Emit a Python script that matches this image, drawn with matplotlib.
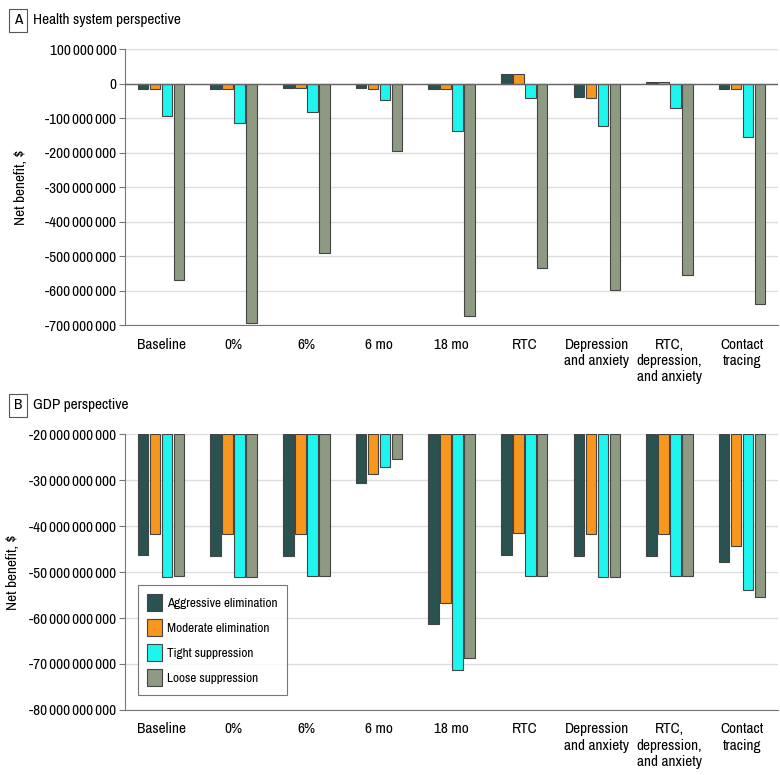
import numpy as np
import matplotlib.pyplot as plt
from matplotlib import font_manager
from matplotlib.ticker import FuncFormatter

# prefer a narrow face if one is installed, the reference uses a condensed font
narrow = None
for f in font_manager.fontManager.ttflist:
    if ("Narrow" in f.name or "Condensed" in f.name) and f.style == "normal":
        narrow = f.name
        break
if narrow:
    plt.rcParams['font.family'] = [narrow, 'DejaVu Sans']
    fs = 11
else:
    plt.rcParams['font.family'] = ['Liberation Sans', 'DejaVu Sans']
    fs = 9.5

categories = ["Baseline", "0%", "6%", "6 mo", "18 mo", "RTC",
              "Depression\nand anxiety", "RTC,\ndepression,\nand anxiety",
              "Contact\ntracing"]
series = ["Aggressive elimination", "Moderate elimination",
          "Tight suppression", "Loose suppression"]
colors = ["#2a5250", "#f7971e", "#1ef5ee", "#8e9a82"]

# panel A, health system perspective ($)
health_agg = [-15e6, -17e6, -13e6, -13e6, -15e6, 29e6, -39e6, 5e6, -16e6]
health_mod = [-15e6, -17e6, -12e6, -15e6, -15e6, 29e6, -41e6, 5e6, -15e6]
health_tight = [-95e6, -114e6, -82e6, -48e6, -136e6, -41e6, -124e6, -71e6, -156e6]
health_loose = [-569e6, -694e6, -490e6, -196e6, -674e6, -534e6, -597e6, -555e6, -640e6]

# panel B, GDP perspective ($)
gdp_agg = [-46.4e9, -46.5e9, -46.5e9, -30.6e9, -61.3e9, -46.3e9, -46.5e9, -46.5e9, -47.9e9]
gdp_mod = [-41.7e9, -41.7e9, -41.7e9, -28.7e9, -56.7e9, -41.6e9, -41.7e9, -41.7e9, -44.3e9]
gdp_tight = [-51.0e9, -51.0e9, -50.8e9, -27.1e9, -71.3e9, -50.8e9, -51.0e9, -50.8e9, -54.0e9]
gdp_loose = [-50.9e9, -51.0e9, -50.8e9, -25.4e9, -68.6e9, -50.8e9, -51.0e9, -50.8e9, -55.5e9]

def fmt(v, pos):
    s = "{:,.0f}".format(abs(v)).replace(",", "\u2009")
    return ("-" if v < 0 else "") + s

def draw(ax, data, ylim, ticks, base):
    x = np.arange(len(categories))
    step = 0.165
    for i, vals in enumerate(data):
        vals = np.array(vals)
        ax.bar(x + (i - 1.5) * step, vals - base, bottom=base, width=0.145,
               color=colors[i], edgecolor="#444444", linewidth=0.8,
               label=series[i], zorder=3)
    ax.set_xlim(-0.5, len(categories) - 0.5)
    ax.set_ylim(*ylim)
    ax.set_yticks(ticks)
    ax.yaxis.set_major_formatter(FuncFormatter(fmt))
    ax.set_xticks(x)
    ax.set_xticklabels(categories, fontsize=fs, va="top", linespacing=1.2)
    ax.tick_params(axis="x", length=0, pad=9)
    ax.tick_params(axis="y", labelsize=fs, length=4, color="#777777", pad=2)
    ax.grid(axis="y", color="#dddddd", linewidth=1, zorder=0)
    for sp in ["top", "right"]:
        ax.spines[sp].set_visible(False)
    for sp in ["left", "bottom"]:
        ax.spines[sp].set_color("#777777")
    ax.set_ylabel("Net benefit, $", fontsize=fs)
    ax.axhline(0, color="#666666", linewidth=1, zorder=4)

fig = plt.figure(figsize=(7.8, 7.75), dpi=100)

axA = fig.add_axes([0.160, 0.5806, 0.838, 0.356])
draw(axA, [health_agg, health_mod, health_tight, health_loose],
     (-700e6, 100e6), np.arange(-700e6, 100e6 + 1, 100e6), 0)
axA.yaxis.set_label_coords(-0.148, 0.5)

axB = fig.add_axes([0.160, 0.0839, 0.838, 0.356])
draw(axB, [gdp_agg, gdp_mod, gdp_tight, gdp_loose],
     (-80e9, -20e9), np.arange(-80e9, -20e9 + 1, 10e9), -20e9)
axB.yaxis.set_label_coords(-0.16, 0.5)

leg = axB.legend(loc="lower left", bbox_to_anchor=(0.01, 0.03), fontsize=fs - 1.5,
                 frameon=True, fancybox=False, edgecolor="#555555",
                 handlelength=1.1, handleheight=1.6, borderpad=0.7,
                 labelspacing=0.6, handletextpad=0.4)
leg.get_frame().set_linewidth(0.8)

for y, letter, title in [(0.974, "A", "Health system perspective"),
                         (0.477, "B", "GDP perspective")]:
    fig.text(0.018, y, letter, fontsize=fs, fontweight="bold", va="center",
             ha="left", bbox=dict(boxstyle="square,pad=0.3", fc="white",
                                  ec="#555555", lw=0.8))
    fig.text(0.042, y, title, fontsize=fs, va="center", ha="left")

fig.savefig("out.png", dpi=100)
